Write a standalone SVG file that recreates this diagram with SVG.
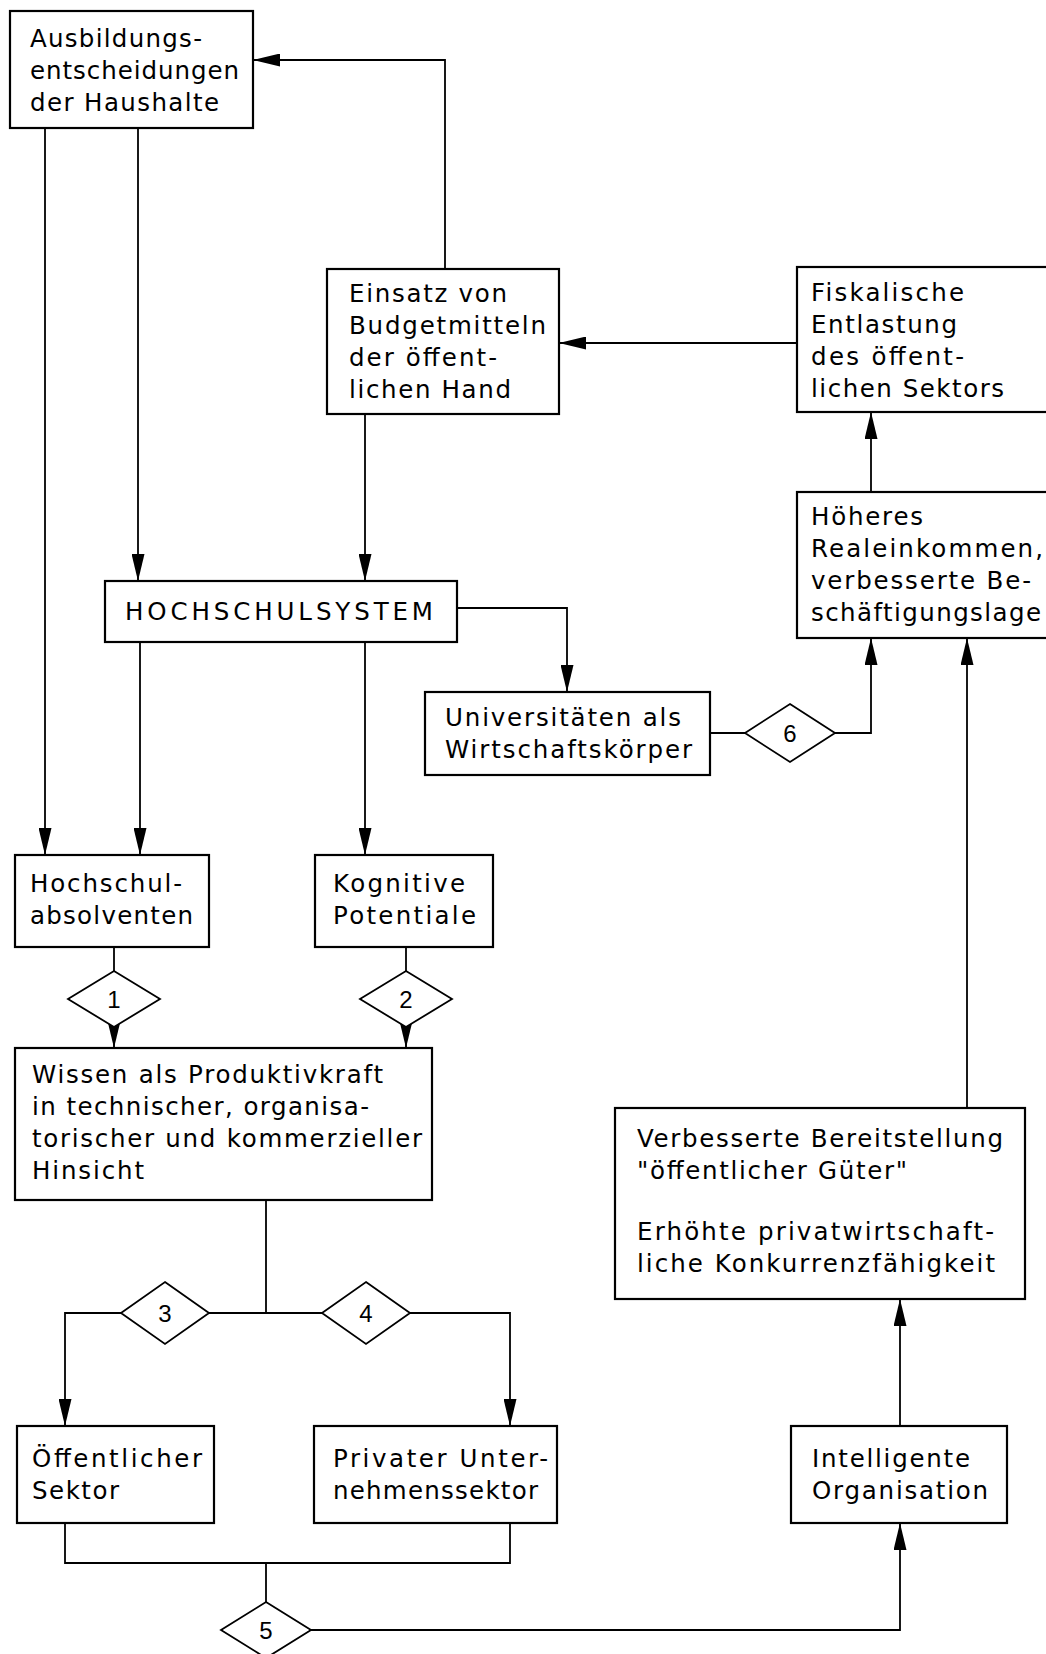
<svg xmlns="http://www.w3.org/2000/svg" width="1046" height="1654" viewBox="0 0 1046 1654">
<style>
.box{fill:#fff;stroke:#000;stroke-width:2.2}
.dia{fill:#fff;stroke:#000;stroke-width:1.8}
.ln{fill:none;stroke:#000;stroke-width:1.8}
text{font-family:"DejaVu Sans","Liberation Sans",sans-serif;font-size:24.5px;fill:#000}
.num{text-anchor:middle;font-family:"Liberation Sans",sans-serif;font-size:24px}
</style>
<defs>
<marker id="ah" viewBox="0 0 27 13" refX="27" refY="6.5" markerWidth="27" markerHeight="13" markerUnits="userSpaceOnUse" orient="auto">
<path d="M0,0 L27,6.5 L0,13 Z" fill="#000"/>
</marker>
</defs>
<rect width="1046" height="1654" fill="#fff"/>
<g id="connectors">
<path class="ln" d="M445,269 V60 H253" marker-end="url(#ah)"/>
<path class="ln" d="M797,343 H559" marker-end="url(#ah)"/>
<path class="ln" d="M871,492 V412" marker-end="url(#ah)"/>
<path class="ln" d="M45,128 V855" marker-end="url(#ah)"/>
<path class="ln" d="M138,128 V581" marker-end="url(#ah)"/>
<path class="ln" d="M365,414 V581" marker-end="url(#ah)"/>
<path class="ln" d="M140,642 V855" marker-end="url(#ah)"/>
<path class="ln" d="M365,642 V855" marker-end="url(#ah)"/>
<path class="ln" d="M457,608 H567 V692" marker-end="url(#ah)"/>
<path class="ln" d="M710,733 H745"/>
<path class="ln" d="M835,733 H871 V638" marker-end="url(#ah)"/>
<path class="ln" d="M114,947 V971"/>
<path class="ln" d="M114,1022 V1048" marker-end="url(#ah)"/>
<path class="ln" d="M406,947 V971"/>
<path class="ln" d="M406,1022 V1048" marker-end="url(#ah)"/>
<path class="ln" d="M266,1200 V1313"/>
<path class="ln" d="M209,1313 H322"/>
<path class="ln" d="M121,1313 H65 V1426" marker-end="url(#ah)"/>
<path class="ln" d="M410,1313 H510 V1426" marker-end="url(#ah)"/>
<path class="ln" d="M65,1523 V1563 H510 V1523"/>
<path class="ln" d="M266,1563 V1602"/>
<path class="ln" d="M311,1630 H900 V1523" marker-end="url(#ah)"/>
<path class="ln" d="M900,1426 V1299" marker-end="url(#ah)"/>
<path class="ln" d="M967,1108 V638" marker-end="url(#ah)"/>
</g>
<g id="n-ausbildung">
<rect class="box" x="10" y="11" width="243" height="117"/>
<text x="30" y="47" textLength="172" lengthAdjust="spacing">Ausbildungs-</text>
<text x="30" y="79" textLength="209" lengthAdjust="spacing">entscheidungen</text>
<text x="30" y="111" textLength="189" lengthAdjust="spacing">der Haushalte</text>
</g>
<g id="n-einsatz">
<rect class="box" x="327" y="269" width="232" height="145"/>
<text x="349" y="302" textLength="158" lengthAdjust="spacing">Einsatz von</text>
<text x="349" y="334" textLength="197" lengthAdjust="spacing">Budgetmitteln</text>
<text x="349" y="366" textLength="148" lengthAdjust="spacing">der öffent-</text>
<text x="349" y="398" textLength="162" lengthAdjust="spacing">lichen Hand</text>
</g>
<g id="n-fiskal">
<rect class="box" x="797" y="267" width="260" height="145"/>
<text x="811" y="301" textLength="153" lengthAdjust="spacing">Fiskalische</text>
<text x="811" y="333" textLength="146" lengthAdjust="spacing">Entlastung</text>
<text x="811" y="365" textLength="153" lengthAdjust="spacing">des öffent-</text>
<text x="811" y="397" textLength="193" lengthAdjust="spacing">lichen Sektors</text>
</g>
<g id="n-hoeheres">
<rect class="box" x="797" y="492" width="260" height="146"/>
<text x="811" y="525" textLength="112" lengthAdjust="spacing">Höheres</text>
<text x="811" y="557" textLength="232" lengthAdjust="spacing">Realeinkommen,</text>
<text x="811" y="589" textLength="220" lengthAdjust="spacing">verbesserte Be-</text>
<text x="811" y="621" textLength="230" lengthAdjust="spacing">schäftigungslage</text>
</g>
<g id="n-hochschulsystem">
<rect class="box" x="105" y="581" width="352" height="61"/>
<text x="125" y="620" textLength="308" lengthAdjust="spacing">HOCHSCHULSYSTEM</text>
</g>
<g id="n-universitaeten">
<rect class="box" x="425" y="692" width="285" height="83"/>
<text x="445" y="726" textLength="236" lengthAdjust="spacing">Universitäten als</text>
<text x="445" y="758" textLength="247" lengthAdjust="spacing">Wirtschaftskörper</text>
</g>
<g id="n-absolventen">
<rect class="box" x="15" y="855" width="194" height="92"/>
<text x="30" y="892" textLength="152" lengthAdjust="spacing">Hochschul-</text>
<text x="30" y="924" textLength="163" lengthAdjust="spacing">absolventen</text>
</g>
<g id="n-kognitive">
<rect class="box" x="315" y="855" width="178" height="92"/>
<text x="333" y="892" textLength="132" lengthAdjust="spacing">Kognitive</text>
<text x="333" y="924" textLength="143" lengthAdjust="spacing">Potentiale</text>
</g>
<g id="n-wissen">
<rect class="box" x="15" y="1048" width="417" height="152"/>
<text x="32" y="1083" textLength="351" lengthAdjust="spacing">Wissen als Produktivkraft</text>
<text x="32" y="1115" textLength="337" lengthAdjust="spacing">in technischer, organisa-</text>
<text x="32" y="1147" textLength="390" lengthAdjust="spacing">torischer und kommerzieller</text>
<text x="32" y="1179" textLength="112" lengthAdjust="spacing">Hinsicht</text>
</g>
<g id="n-verbesserte">
<rect class="box" x="615" y="1108" width="410" height="191"/>
<text x="637" y="1147" textLength="366" lengthAdjust="spacing">Verbesserte Bereitstellung</text>
<text x="637" y="1179" textLength="270" lengthAdjust="spacing">"öffentlicher Güter"</text>
<text x="637" y="1240" textLength="357" lengthAdjust="spacing">Erhöhte privatwirtschaft-</text>
<text x="637" y="1272" textLength="358" lengthAdjust="spacing">liche Konkurrenzfähigkeit</text>
</g>
<g id="n-oeffentlich">
<rect class="box" x="17" y="1426" width="197" height="97"/>
<text x="32" y="1467" textLength="170" lengthAdjust="spacing">Öffentlicher</text>
<text x="32" y="1499" textLength="87" lengthAdjust="spacing">Sektor</text>
</g>
<g id="n-privat">
<rect class="box" x="314" y="1426" width="243" height="97"/>
<text x="333" y="1467" textLength="215" lengthAdjust="spacing">Privater Unter-</text>
<text x="333" y="1499" textLength="205" lengthAdjust="spacing">nehmenssektor</text>
</g>
<g id="n-intelligent">
<rect class="box" x="791" y="1426" width="216" height="97"/>
<text x="812" y="1467" textLength="158" lengthAdjust="spacing">Intelligente</text>
<text x="812" y="1499" textLength="176" lengthAdjust="spacing">Organisation</text>
</g>
<g id="d1">
<polygon class="dia" points="114,971 160,999 114,1027 68,999"/>
<text class="num" x="114" y="1008">1</text>
</g>
<g id="d2">
<polygon class="dia" points="406,971 452,999 406,1027 360,999"/>
<text class="num" x="406" y="1008">2</text>
</g>
<g id="d3">
<polygon class="dia" points="165,1282 209,1313 165,1344 121,1313"/>
<text class="num" x="165" y="1322">3</text>
</g>
<g id="d4">
<polygon class="dia" points="366,1282 410,1313 366,1344 322,1313"/>
<text class="num" x="366" y="1322">4</text>
</g>
<g id="d5">
<polygon class="dia" points="266,1602 311,1630 266,1658 221,1630"/>
<text class="num" x="266" y="1639">5</text>
</g>
<g id="d6">
<polygon class="dia" points="790,704 835,733 790,762 745,733"/>
<text class="num" x="790" y="742">6</text>
</g>
</svg>
